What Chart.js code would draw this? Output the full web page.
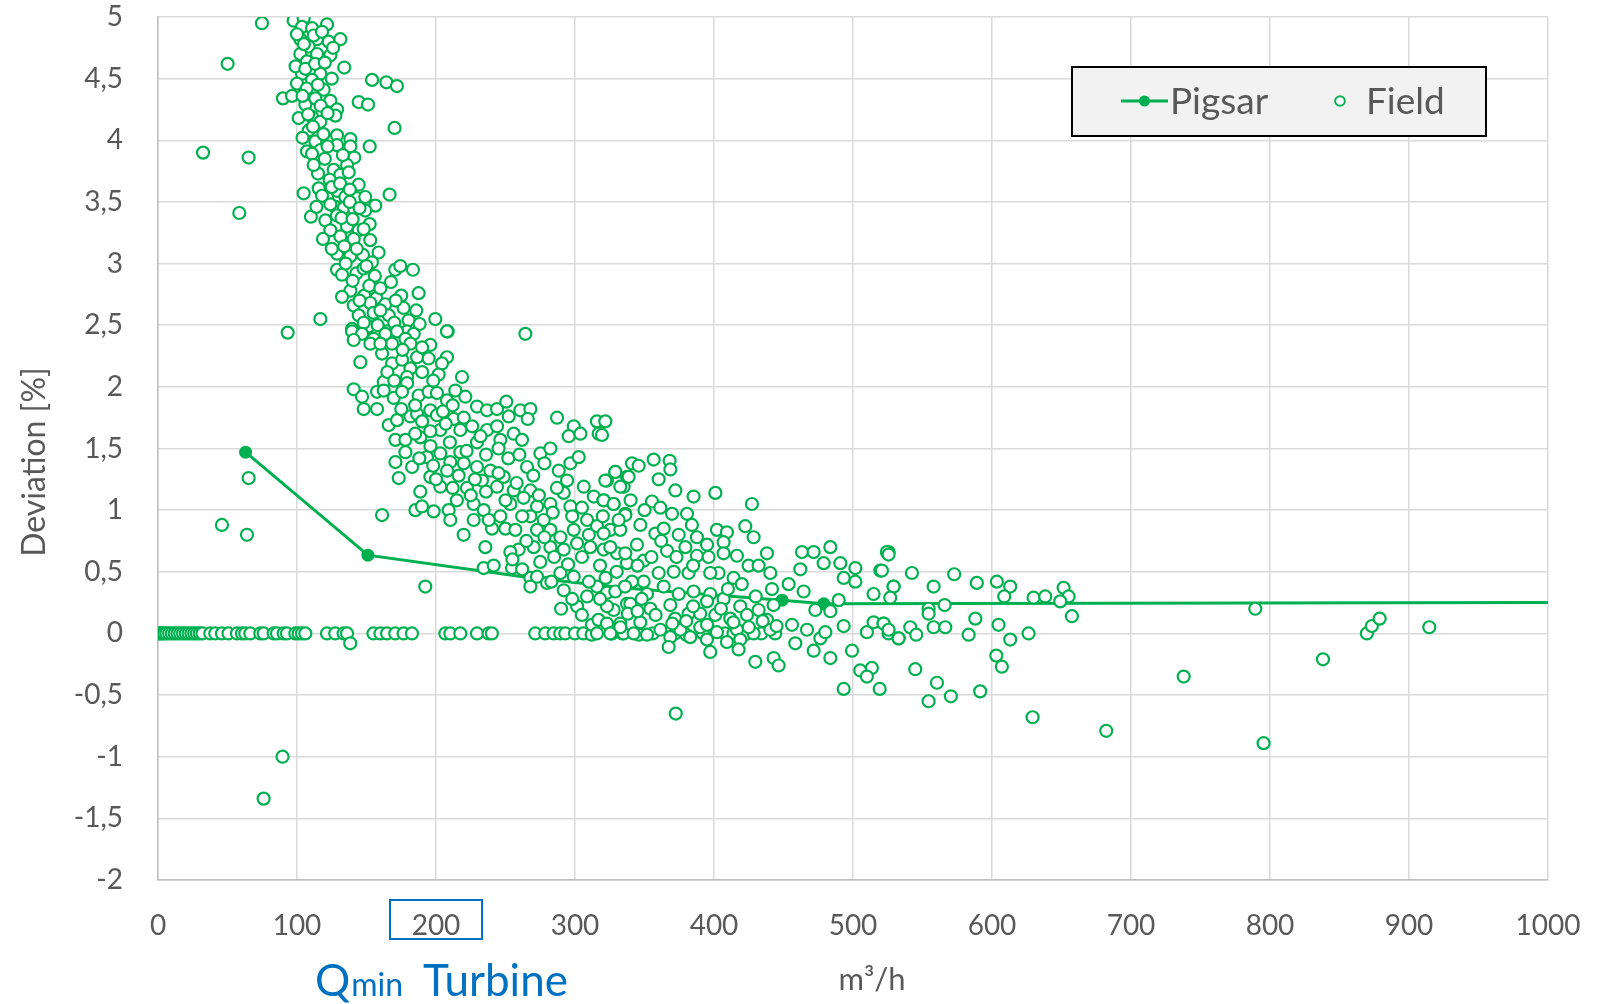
<!DOCTYPE html>
<html>
<head>
<meta charset="utf-8">
<script src="https://cdn.jsdelivr.net/npm/chart.js@4.4.1/dist/chart.umd.min.js"></script>
<style>
  html, body { margin: 0; padding: 0; background: #ffffff; }
  canvas { display: block; }
</style>
</head>
<body>
<canvas id="chart" width="1613" height="1004"></canvas>
<script>
// Axis ticks
const xTicks = [0, 100, 200, 300, 400, 500, 600, 700, 800, 900, 1000];
const yTicks = [-2, -1.5, -1, -0.5, 0, 0.5, 1, 1.5, 2, 2.5, 3, 3.5, 4, 4.5, 5];

// Reference curve (Pigsar)
const pigsarFlow      = [63, 151, 265, 340, 449, 479, 1000];
const pigsarDeviation = [1.47, 0.635, 0.455, 0.365, 0.27, 0.24, 0.25];
const pigsarMarker    = [true, true, false, false, true, true, false];

// Field measurements [flow m3/h, deviation %]
const fieldZeroRow = [
  [0,0],[1.5,0],[3,0],[4.5,0],[6,0],[8,0],[10,0],[12,0],[14,0],[16,0],[18,0],[20,0],[22,0],[24,0],[26,0],[28,0],[30,0],[32,0],
  [37.6,0],[41.2,0],[46,0],[50.7,0],[56.8,0],[60.4,0],[62.8,0],[66.4,0],[73.6,0],[76,0],[83.2,0],[85.6,0],[90.4,0],[92.8,0],[98.8,0],[101.2,0],[103.6,0],[106,0],
  [121.6,0],[127.5,0],[133.5,0],[136,0],[138.3,-0.08],[155,0],[160,0],[164.8,0],[170.7,0],[176.7,0],[182.7,0],
  [206.7,0],[210.3,0],[217.5,0],[229.5,0],[237.8,0],[240.2,0],[271.4,0],[278.6,0],[284.6,0],[289.4,0],[293,0],
  [300,0],[306,0],[312,-0.01],[326,0],[334,0],[346,-0.01],[356,0],[372,0],[380,-0.01],[392,0],[408,0],[414,0],[422,-0.01],[434,0],[444,0]
];

const fieldUpper = [
  [74.8,4.95],[50.1,4.62],[32.4,3.90],[65.2,3.86],[58.5,3.41],
  [97.6,4.97],[104.8,4.99],[103.6,4.92],[110.8,4.91],[121.6,4.94],[102.4,4.82],[114.4,4.82],[122.8,4.80],[131.2,4.82],[108.4,4.76],
  [102.4,4.70],[114.4,4.70],[124,4.69],[107.2,4.64],[134,4.59],[103.6,4.54],[116.8,4.54],[110.8,4.49],[119.2,4.41],[154,4.49],
  [164.3,4.47],[171.9,4.44],[89.9,4.34],[96.4,4.36],[106,4.29],[113.2,4.34],[124,4.32],[128.8,4.25],[144.4,4.31],[151.1,4.29],
  [101.2,4.18],[110.8,4.19],[116.8,4.15],[127.6,4.20],[108.4,4.08],[111.5,4.11],[170.2,4.10],[128.8,4.04],[138.4,4.01],[113.2,3.99],
  [107.2,3.91],[116.8,3.92],[110.8,3.89],[128.8,3.96],[138.4,3.95],[152.3,3.95],[141.2,3.86],[136,3.80],[115.1,3.73],[126.4,3.76],
  [131.2,3.72],[137.2,3.74],[123.5,3.68],[144.4,3.64],[115.6,3.61],[128.8,3.59],[104.8,3.57],[166.6,3.56],[121.6,3.54],[134.8,3.54],
  [143.2,3.53],[149.1,3.54],[156.3,3.47],[127.6,3.46],[133.6,3.45],[141.2,3.44],[149.1,3.43],[110,3.38],[120.4,3.35],[128.8,3.39],
  [136,3.30],[144.4,3.27],[152.3,3.32],[124,3.27],[118.7,3.20],[131.2,3.22],[140.8,3.20],[152.7,3.19],[128.8,3.08],[138.4,3.06],
  [147.5,3.07],[158.7,3.09],[153.9,3.01],[128.8,2.95],[132.4,2.91],[142.7,2.92],[147.9,2.96],[170.7,2.95],[174.3,2.98],[183.4,2.95],
  [138.4,2.78],[148.4,2.74],[157,2.72],[167.6,2.85],[175,2.74],[187.5,2.76],[132.4,2.73],[116.8,2.55],[140.8,2.66],[152.7,2.68],
  [163.5,2.67],[176.7,2.64],[185.8,2.62],[144.4,2.58],[155.1,2.60],[166,2.58],[180.3,2.54],[188.2,2.51],[199.5,2.55],[139.6,2.47],
  [151.5,2.49],[164.7,2.45],[179.1,2.45],[208.4,2.45],[264.3,2.43],[93.3,2.44],
  [100,4.86],[105,4.78],[112,4.85],[118,4.88],[126,4.75],[99,4.60],[106,4.58],[113,4.62],[120,4.63],[100,4.46],[107,4.42],[115,4.45],
  [125,4.50],[104,4.36],[117,4.28],[122,4.22],[108,4.21],[104,4.02],[119,4.05],[122,3.95],[133,3.88],[120,3.85],[112,3.80],[125,3.62],
  [131,3.65],[138,3.60],[118,3.55],[124,3.48],[138,3.50],[145,3.45],[114,3.46],[132,3.37],[140,3.36],[148,3.28],[125,3.12],[134,3.14],
  [143,3.12],[135,3.00],[150,2.98],[156,2.90],[140,2.86],[152,2.82],[160,2.80],[145,2.70],[160,2.62],[171,2.70],[148,2.52],[158,2.50],
  [170,2.52],[184,2.43]
];

const fieldMiddle = [
  [139.6,2.45],[146.8,2.43],[155.2,2.39],[163.6,2.43],[172,2.45],[178,2.39],[140.8,2.38],[152.8,2.35],[168.4,2.35],[181.6,2.35],[195.9,2.34],[207.9,2.45],
  [145.6,2.20],[161.2,2.27],[168.4,2.19],[175.6,2.22],[181.6,2.15],[186.4,2.24],[194.7,2.23],[207.9,2.24],[204.3,2.19],[201.9,2.10],[179.2,2.08],[162.4,2.04],
  [179.2,2.03],[140.8,1.98],[146.8,1.92],[148,1.82],[157.6,1.96],[162.4,1.97],[169.6,1.91],[175.6,1.96],[187.5,1.93],[194.7,1.96],[200.7,1.95],[207.9,1.89],
  [213.9,1.97],[218.7,2.08],[221.1,1.92],[229.5,1.84],[236.7,1.81],[243.9,1.82],[250.6,1.88],[252.3,1.76],[260.7,1.81],[267.9,1.82],[266,1.74],[287.1,1.75],
  [299.1,1.68],[295.5,1.60],[303.9,1.62],[315.8,1.72],[317,1.62],
  [157.6,1.82],[166,1.69],[172,1.73],[181.6,1.76],[186.4,1.78],[195.9,1.81],[200.7,1.77],[212.7,1.74],[203.1,1.65],[217.5,1.65],[170.8,1.57],[178,1.57],
  [188.7,1.59],[195.9,1.64],[229.5,1.55],[236.7,1.65],[243.9,1.68],[246.3,1.57],[255.9,1.62],[261.9,1.57],
  [170.8,1.39],[182.8,1.35],[173.2,1.26],[193.5,1.43],[203.1,1.46],[210.3,1.39],[217.5,1.47],[195.9,1.27],[188.7,1.15],[185.2,1.00],[189.9,1.03],[161.2,0.96],
  [198.3,0.99],[203.1,1.19],[209.1,1.00],[210.3,0.92],[219.9,0.80],[222.3,1.18],[216.3,1.28],[229.5,1.35],[233.1,1.24],[239.1,1.32],[243.9,1.19],[227.1,1.05],
  [234.3,1.00],[240.3,0.85],[227.1,0.92],[248.7,1.27],[255.9,1.16],[265.5,1.35],[267.9,1.16],[275.1,1.46],[282.3,1.50],[288.3,1.32],[294.3,1.24],[296.7,1.38],
  [302.7,1.43],
  [253.5,1.05],[246.3,0.95],[249.9,0.85],[257.1,0.84],[259.5,0.68],[253.5,0.66],[235.5,0.70],[272.7,1.03],[277.5,0.92],[282.3,1.05],[291.9,1.14],[296.7,1.03],
  [306.3,1.19],[313.5,1.11],[323,1.24],[329,1.31],[335,1.19],[337.4,1.27],[320.6,1.08],[327.8,1.05],[336.2,0.97],
  [267.9,0.95],[272.7,0.84],[282.3,0.84],[289.5,0.78],[299.1,0.84],[308.7,0.92],[315.8,0.87],[325.4,0.84],[332.6,0.84],[270.3,0.70],[282.3,0.70],[291.9,0.68],
  [301.5,0.73],[311,0.70],[320.6,0.68],[330.2,0.65],[337.4,0.57],
  [234.3,0.53],[241.5,0.55],[254.7,0.53],[267.9,0.45],[272.7,0.46],[267.9,0.38],[279.9,0.41],[289.5,0.49],[291.9,0.35],[299.1,0.46],[301.5,0.22],[308.7,0.30],
  [315.8,0.38],[323,0.33],[327.8,0.19],[312.2,0.07],[316.9,0.11],[323,0.08],[332.6,0.08],[337.4,0.24],[326.6,0],[315.8,0],[335,0],[192.3,0.38],
  [160,2.35],[176,2.30],[190,2.32],[165,2.12],[190,2.12],[198,2.05],[170,2.05],[185,1.85],[175,1.82],[205,1.80],[212,1.85],[190,1.72],
  [207,1.70],[220,1.75],[226,1.68],[232,1.60],[185,1.62],[196,1.52],[210,1.55],[222,1.48],[236,1.45],[245,1.50],[252,1.42],[260,1.45],
  [178,1.47],[188,1.42],[198,1.36],[208,1.32],[220,1.38],[228,1.25],[245,1.30],[258,1.22],[270,1.28],[278,1.38],[287,1.18],[200,1.25],
  [212,1.18],[225,1.12],[236,1.15],[250,1.08],[263,1.10],[274,1.12],[284,0.98],[305,1.02],[215,1.08],[238,0.92],[262,0.95],[278,0.78],
  [298,0.95],[310,0.80],[265,0.75],[285,0.62],[295,0.56],[305,0.62],[318,0.55],[283,0.42],[275,0.58],[255,0.60],[262,0.52],[298,0.28],[290,0.20]
];

const fieldLower = [
  [321.8,1.72],[319.4,1.61],[341,1.38],[345.8,1.36],[356.6,1.41],[368.1,1.40],[368.6,1.33],[360.2,1.25],[329,1.31],[338.6,1.27],[321.8,1.24],[332.6,1.19],
  [372.2,1.16],[385.3,1.11],[401,1.14],[427.3,1.05],[320.6,1.08],[327.8,1.05],[355.4,1.07],[361.4,1.02],[369.8,0.97],[380.6,0.97],[336.2,0.96],[347,0.88],
  [331.4,0.92],[357.8,0.81],[363.8,0.85],[374.6,0.80],[384.1,0.88],[387.7,0.78],[402.1,0.84],[409.3,0.82],[422.5,0.87],[428.5,0.78],[406.9,0.74],[320.6,0.81],
  [325.4,0.70],[336.2,0.65],[344.6,0.72],[349.4,0.59],[366.2,0.67],[379.4,0.70],[387.7,0.63],[396.1,0.62],[406.9,0.65],[416.5,0.63],[438.1,0.65],[424.9,0.55],
  [432.1,0.55],[440.5,0.49],[414.1,0.45],[403.3,0.49],[397.3,0.49],[381.7,0.49],[371,0.50],[360.2,0.49],[349.4,0.42],[341,0.42],[329,0.34],[351.8,0.32],
  [363.8,0.38],[374.6,0.32],[385.3,0.34],[397.3,0.32],[406.9,0.28],[418.9,0.22],[432.1,0.19],[441.7,0.36],[442.9,0.23],[323,0.22],[339.8,0.24],[354.2,0.20],
  [368.6,0.23],[381.7,0.16],[390.1,0.16],[400.9,0.15],[411.7,0.12],[423.7,0.15],[438.1,0.11],[347,0.09],[332.6,0.05],[361.4,0.03],[375.8,0.03],[390.1,0.05],
  [402.1,0.01],[416.5,0.03],[428.5,0],[440.5,0.03],[325.4,0],[342.2,0],[351.8,-0.01],[368.6,-0.03],[382.9,-0.03],[394.9,-0.05],[409.3,-0.07],[418.9,-0.05],
  [367.4,-0.11],[397.3,-0.15],[417.7,-0.13],[429.7,-0.23],[442.9,-0.20],[446.5,-0.26],[372.5,-0.65],
  [453.7,0.40],[462.1,0.52],[463.3,0.66],[471.7,0.66],[478.9,0.57],[483.7,0.70],[490.9,0.57],[493.3,0.45],[501.7,0.53],[464.5,0.34],[472.9,0.19],[483.7,0.18],
  [489.7,0.27],[501.7,0.42],[514.8,0.32],[519.6,0.51],[525.6,0.66],[529.2,0.38],[456.1,0.07],[458.5,-0.08],[466.9,0.03],[476.5,-0.04],[480.1,0.01],[471.7,-0.14],
  [483.7,-0.20],[493.3,0.06],[499.3,-0.14],[510,0.01],[514.8,0.09],[522,0.08],[525.6,0],[532.8,-0.04],[505.2,-0.30],[513.6,-0.28],[493.3,-0.45],[519.2,-0.45],
  [510,-0.35],
  [320,0.95],[340,1.08],[350,1.00],[330,0.50],[345,0.55],[355,0.62],[362,0.75],[373,0.62],[385,0.55],[395,0.72],[310,0.42],[322,0.45],
  [336,0.38],[348,0.28],[358,0.15],[372,0.12],[385,0.22],[395,0.26],[410,0.36],[420,0.40],[430,0.30],[305,0.15],[318,0.28],[338,0.16],
  [345,0.18],[370,0.08],[380,0.10],[395,0.07],[405,0.20],[414,0.09],[425,0.05],[435,0.10],[445,0.06]
];

const fieldRight = [
  [524.4,0.66],[525.6,0.64],[520.8,0.51],[542.4,0.49],[572.8,0.48],[529.2,0.38],[558,0.38],[589.1,0.41],[603.5,0.42],[613.1,0.38],[526.8,0.29],[608.8,0.30],
  [629.9,0.29],[638.3,0.30],[651.5,0.37],[655.1,0.30],[649.1,0.26],[554.4,0.20],[554.4,0.16],[565.9,0.23],[588,0.12],[657.5,0.14],[522,0.08],[525.6,0.03],
  [532.8,-0.04],[541.2,0.05],[545.5,-0.01],[558,0.05],[566.4,0.05],[583.2,-0.01],[604.7,0.07],[613.1,-0.05],[626.3,0],[603.1,-0.18],[607.1,-0.27],
  [544.8,-0.29],[560.4,-0.40],[554.4,-0.55],[570.4,-0.51],[591.5,-0.47],[629.2,-0.68],[682.2,-0.79]
];

const fieldTail = [
  [789.4,0.20],[737.9,-0.35],[838.1,-0.21],[869.7,0],[873.3,0.06],[878.9,0.12],[914.6,0.05],[795.4,-0.89]
];

const fieldOutliers = [
  [65.2,1.26],[46,0.88],[64,0.80],[89.6,-1.00],[76,-1.34]
];

const fieldPoints = [].concat(fieldZeroRow, fieldUpper, fieldMiddle, fieldLower, fieldRight, fieldTail, fieldOutliers);

const GREEN = '#00B050';
const TEXT_GREY = '#595959';
const BLUE = '#0070C0';
const FONT = 'Lato, "Open Sans", sans-serif';

function fmtComma(v) {
  return String(v).replace('.', ',');
}

// Legend box, axis titles and the Qmin marker text
const decorations = {
  id: 'decorations',
  afterDraw(chart) {
    const ctx = chart.ctx;
    const xs = chart.scales.x;
    const area = chart.chartArea;
    ctx.save();

    // axis titles
    ctx.fillStyle = TEXT_GREY;
    ctx.font = '31px ' + FONT;
    ctx.textAlign = 'center';
    ctx.textBaseline = 'middle';
    ctx.fillText('m³/h', 872, 980);

    ctx.save();
    ctx.translate(35, 462);
    ctx.rotate(-Math.PI / 2);
    ctx.font = '32px ' + FONT;
    ctx.fillText('Deviation [%]', 0, 0);
    ctx.restore();

    // frame around the 200 tick label
    const px200 = xs.getPixelForValue(200);
    ctx.strokeStyle = BLUE;
    ctx.lineWidth = 2;
    ctx.strokeRect(px200 - 46, area.bottom + 20, 92, 39);

    // Qmin Turbine
    ctx.fillStyle = BLUE;
    ctx.textAlign = 'left';
    ctx.textBaseline = 'alphabetic';
    ctx.font = '44px ' + FONT;
    ctx.fillText('Q', 315, 996);
    const qW = ctx.measureText('Q').width;
    ctx.font = '32px ' + FONT;
    ctx.fillText('min', 315 + qW + 1, 996);
    ctx.font = '44px ' + FONT;
    ctx.fillText('Turbine', 423, 996);

    // legend
    const ds = chart.data.datasets;
    ctx.fillStyle = '#f2f2f2';
    ctx.fillRect(1072, 67, 414, 69);
    ctx.strokeStyle = '#000000';
    ctx.lineWidth = 2;
    ctx.strokeRect(1072, 67, 414, 69);

    const ly = 101;
    ctx.strokeStyle = ds[1].borderColor;
    ctx.lineWidth = 3;
    ctx.beginPath();
    ctx.moveTo(1121, ly);
    ctx.lineTo(1168, ly);
    ctx.stroke();
    ctx.fillStyle = ds[1].borderColor;
    ctx.beginPath();
    ctx.arc(1144.5, ly, 5.5, 0, Math.PI * 2);
    ctx.fill();

    ctx.fillStyle = '#ffffff';
    ctx.strokeStyle = ds[0].borderColor;
    ctx.lineWidth = 2;
    ctx.beginPath();
    ctx.arc(1340, ly, 4.8, 0, Math.PI * 2);
    ctx.fill();
    ctx.stroke();

    ctx.fillStyle = TEXT_GREY;
    ctx.font = '37px ' + FONT;
    ctx.textBaseline = 'middle';
    ctx.fillText(ds[1].label, 1170, ly + 1);
    ctx.fillText(ds[0].label, 1366, ly + 1);

    ctx.restore();
  }
};

function draw() {
  new Chart(document.getElementById('chart'), {
    type: 'scatter',
    data: {
      datasets: [
        {
          label: 'Field',
          data: fieldPoints.map(p => ({ x: p[0], y: p[1] })),
          showLine: false,
          pointStyle: 'circle',
          pointRadius: 6,
          pointBorderWidth: 2.2,
          borderColor: GREEN,
          backgroundColor: '#ffffff',
          order: 0
        },
        {
          label: 'Pigsar',
          data: pigsarFlow.map((x, i) => ({ x: x, y: pigsarDeviation[i] })),
          showLine: true,
          borderColor: GREEN,
          backgroundColor: GREEN,
          borderWidth: 3,
          pointRadius: pigsarMarker.map(m => m ? 6.5 : 0),
          pointBorderWidth: 0,
          tension: 0,
          order: 1
        }
      ]
    },
    options: {
      responsive: false,
      animation: false,
      events: [],
      layout: { padding: { top: 17, right: 65, bottom: 0, left: 0 } },
      plugins: {
        legend: { display: false },
        tooltip: { enabled: false }
      },
      scales: {
        x: {
          type: 'linear',
          min: 0,
          max: 1000,
          afterBuildTicks: s => { s.ticks = xTicks.map(v => ({ value: v })); },
          afterFit: s => { s.height = 124; s.paddingLeft = 0; s.paddingRight = 0; },
          ticks: {
            font: { family: FONT, size: 28 },
            color: TEXT_GREY,
            padding: 29,
            maxRotation: 0,
            callback: v => fmtComma(v)
          },
          grid: { color: '#d9d9d9', lineWidth: 1.5, drawTicks: false },
          border: { display: true, color: '#bfbfbf', width: 1.5 }
        },
        y: {
          type: 'linear',
          min: -2,
          max: 5,
          afterBuildTicks: s => { s.ticks = yTicks.map(v => ({ value: v })); },
          afterFit: s => { s.width = 158; s.paddingTop = 0; s.paddingBottom = 0; },
          ticks: {
            font: { family: FONT, size: 28 },
            color: TEXT_GREY,
            padding: 35,
            callback: v => fmtComma(v)
          },
          grid: { color: '#d9d9d9', lineWidth: 1.5, drawTicks: false },
          border: { display: true, color: '#bfbfbf', width: 1.5 }
        }
      }
    },
    plugins: [decorations]
  });
}

if (document.fonts && document.fonts.load) {
  Promise.all([
    document.fonts.load('28px Lato'),
    document.fonts.load('44px Lato')
  ]).then(draw, draw);
} else {
  draw();
}
</script>
</body>
</html>
